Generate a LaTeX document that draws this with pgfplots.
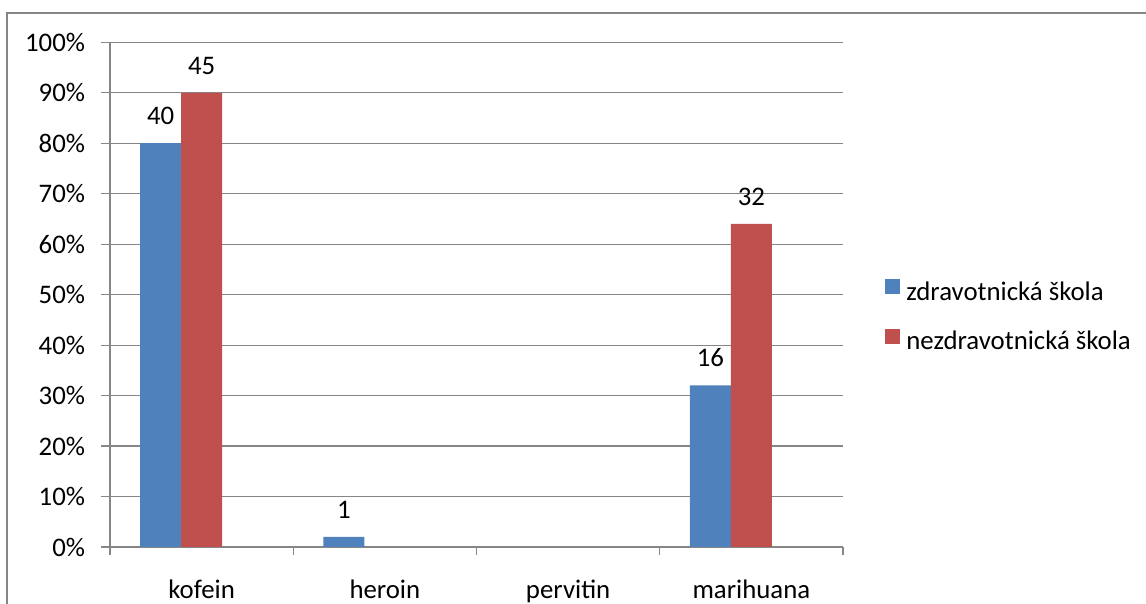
\documentclass[border=0pt]{standalone}
\usepackage{pgfplots}
\pgfplotsset{compat=1.18}
\usepackage{fontspec}
\setmainfont{Carlito}

\definecolor{barblue}{RGB}{79,129,189}
\definecolor{barred}{RGB}{192,80,77}
\definecolor{framegray}{RGB}{134,134,134}

\begin{document}
\begin{tikzpicture}[font=\fontsize{13.4pt}{16pt}\selectfont]
\useasboundingbox (0pt,0pt) rectangle (573pt,302pt);
% chart frame (left and top edges)
\draw[framegray, line width=1pt] (3.5pt,0pt) -- (3.5pt,295.5pt) -- (573pt,295.5pt);
\begin{axis}[
  at={(55pt,28.5pt)}, anchor=south west,
  scale only axis,
  width=366.5pt, height=252.35pt,
  xmin=-0.5, xmax=3.5,
  ymin=0, ymax=50,
  axis x line=bottom, axis y line=left,
  axis line style={framegray, line width=0.6pt, -},
  /pgf/number format/assume math mode=true,
  xtick={0,1,2,3},
  xticklabels={kofein,heroin,pervitin,marihuana},
  major x tick style={draw=none},
  minor xtick={-0.5,0.5,1.5,2.5,3.5},
  minor x tick style={framegray, line width=0.6pt},
  minor tick length=4pt,
  ytick={0,5,...,50},
  yticklabels={0\%,10\%,20\%,30\%,40\%,50\%,60\%,70\%,80\%,90\%,100\%},
  major tick length=4.5pt,
  tick align=outside,
  y tick style={framegray, line width=0.6pt},
  ymajorgrids,
  grid style={framegray, line width=0.6pt},
  xticklabel style={anchor=base, inner sep=0pt, yshift=-21.5pt},
  yticklabel style={anchor=east, inner sep=0pt, xshift=-7.8pt},
  ybar, bar width=20.5pt,
  nodes near coords,
  point meta=y,
  every node near coord/.append style={anchor=south, inner sep=0pt, yshift=9pt, black},
  legend image code/.code={\fill[#1,draw=none] (0pt,0pt) rectangle (7.5pt,7.5pt);},
  legend style={at={(1.0573,0.5316)}, anchor=north west, draw=none, fill=none,
    inner sep=0pt, row sep=11.3pt,
    nodes={inner sep=0pt, text height=9pt, text depth=3pt},
    /tikz/every odd column/.append style={column sep=3pt}},
  legend cell align=left,
]
% number of respondents out of 50 per school type; pervitin had none
\addplot[fill=barblue, draw=none, bar shift=-20.5pt]
  coordinates {(0,40) (1,1) (3,16)};
\addplot[fill=barred, draw=none, bar shift=0pt]
  coordinates {(0,45) (3,32)};
\legend{zdravotnická škola, nezdravotnická škola}
\end{axis}
\end{tikzpicture}
\end{document}
